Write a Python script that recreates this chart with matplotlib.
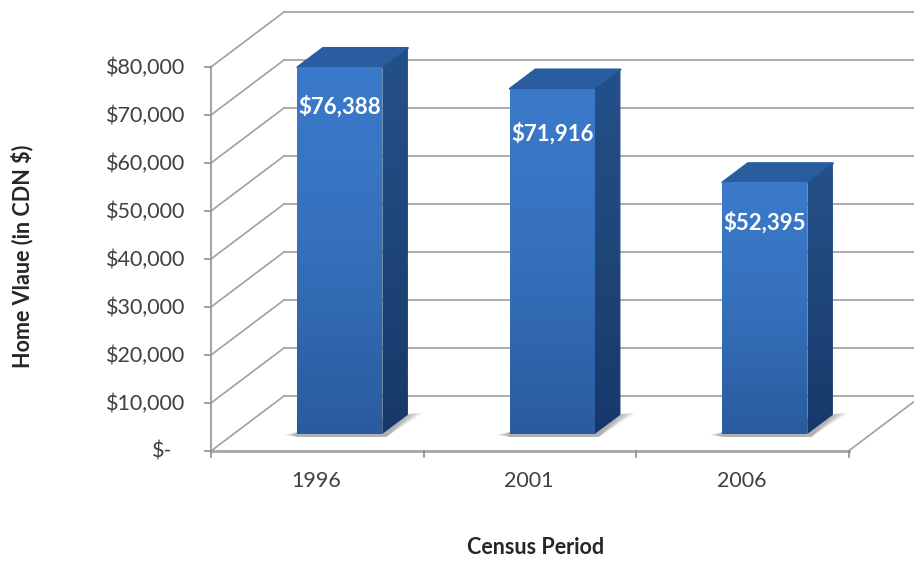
import numpy as np
import matplotlib
matplotlib.use('Agg')
import matplotlib.pyplot as plt
from matplotlib.colors import LinearSegmentedColormap
from matplotlib.patches import Polygon

years = ['1996', '2001', '2006']
home_values = [76388, 71916, 52395]
value_labels = ['$76,388', '$71,916', '$52,395']
y_ticks = [0, 10000, 20000, 30000, 40000, 50000, 60000, 70000, 80000]
y_tick_labels = ['$-', '$10,000', '$20,000', '$30,000', '$40,000', '$50,000',
                 '$60,000', '$70,000', '$80,000']

plt.rcParams['font.family'] = ['Lato', 'DejaVu Sans']

W, H = 914, 561
# pixels per category and per dollar, fixes the axes limits below
px_cat = 212.5
px_usd = 48 / 10000
x0, y0 = 211, 451

# oblique projection of the fake 3d box
depth_x = 73 / px_cat
depth_y = 55 / px_usd


def proj(x, v, d=0.0):
    return x + d * depth_x, v + d * depth_y


def px_x(p):
    return p / px_cat


def px_y(p):
    return p / px_usd


fig = plt.figure(figsize=(W / 100, H / 100), dpi=100)
ax = fig.add_axes([0, 0, 1, 1])
xlim = (-x0 / px_cat, (W - x0) / px_cat)
ylim = (-(H - y0) / px_usd, y0 / px_usd)
ax.axis('off')

grid_c = '#a6a6a6'
x_end = len(years)

# walls
for v in y_ticks:
    bx, by = proj(0, v, 1)
    ex, ey = proj(x_end, v, 1)
    ax.plot([0, bx], [v, by], color=grid_c, lw=1.3, zorder=1)
    ax.plot([bx, ex], [by, ey], color=grid_c, lw=1.3, zorder=1)
ax.plot([0, 0], [0, y_ticks[-1]], color=grid_c, lw=1.5, zorder=1)
ax.plot([0, x_end], [0, 0], color=grid_c, lw=2.0, zorder=1)
ex, ey = proj(x_end, 0, 1)
ax.plot([x_end, ex], [0, ey], color=grid_c, lw=1.3, zorder=1)

# ticks
for v, lab in zip(y_ticks, y_tick_labels):
    ax.plot([-px_x(6), 0], [v, v], color='#8c8c8c', lw=1.2, zorder=1)
    right = -px_x(39) if lab == '$-' else -px_x(26)
    ax.text(right, v - px_y(1), lab, ha='right', va='center', fontsize=15.5, color='#404040')
for i in range(len(years) + 1):
    ax.plot([i, i], [0, -px_y(6)], color='#8c8c8c', lw=1.2, zorder=1)
for i, year in enumerate(years):
    ax.text(i + 0.5 + px_x(-1), -px_y(30), year, ha='center', va='center',
            fontsize=15.5, color='#404040')

ax.text(px_x(325), -px_y(96), 'Census Period', ha='center', va='center',
        fontsize=15.5, fontweight='bold', color='#262626')
ax.text(-px_x(189), px_y(195), 'Home Vlaue (in CDN $)', rotation=90, ha='center',
        va='center', fontsize=15.5, fontweight='bold', color='#262626')

front_cm = LinearSegmentedColormap.from_list('front', ['#3b7acb', '#3570bb', '#2a5b9e'])
side_cm = LinearSegmentedColormap.from_list('side', ['#24508a', '#1f4679', '#17386a'])


def gradient_face(pts, cmap, z):
    pts = np.array(pts)
    poly = Polygon(pts, closed=True, fc='none', ec='none', transform=ax.transData)
    ax.add_patch(poly)
    grad = np.linspace(0, 1, 128).reshape(-1, 1)
    im = ax.imshow(grad, cmap=cmap, aspect='auto', zorder=z,
                   extent=(pts[:, 0].min(), pts[:, 0].max(), pts[:, 1].min(), pts[:, 1].max()))
    im.set_clip_path(poly)


bar_w = 85 / px_cat
d_front = 0.31
d_back = 0.66
label_drop = [39, 45, 40]

for i, v in enumerate(home_values):
    left = i + 0.5 - bar_w / 2
    right = i + 0.5 + bar_w / 2
    fl = proj(left, 0, d_front)
    fr = proj(right, 0, d_front)
    tl = proj(left, v, d_front)
    tr = proj(right, v, d_front)
    bl = proj(left, v, d_back)
    br = proj(right, v, d_back)
    gr = proj(right, 0, d_back)

    # soft shadow on the floor, wedges left of and right of the bar
    for k in range(8):
        grow = px_x(2 + 12 * (1 - k / 7))
        shadow = [(fl[0] - grow, fl[1] - px_y(1)),
                  (fl[0], fl[1] + px_y(2)),
                  gr,
                  (gr[0] + grow * 1.1, gr[1] + px_y(2)),
                  (fr[0] + px_x(4), fr[1] - px_y(3)),
                  (fl[0], fl[1] - px_y(3))]
        ax.add_patch(Polygon(shadow, closed=True, fc='#555555', ec='none', alpha=0.07, zorder=2))

    gradient_face([tl, tr, fr, fl], front_cm, 4)
    gradient_face([tr, br, gr, fr], side_cm, 4)
    ax.add_patch(Polygon([tl, bl, br, tr], closed=True, fc='#2a5d9f', ec='#2a5d9f',
                         lw=1.5, joinstyle='round', zorder=3.5))

    ax.text(i + 0.5 + d_front * depth_x, v + d_front * depth_y - px_y(label_drop[i]),
            value_labels[i], ha='center', va='center', fontsize=16, fontweight='bold',
            color='white', zorder=5)

ax.set_xlim(xlim)
ax.set_ylim(ylim)

fig.savefig('out.png', dpi=100, facecolor='white')
